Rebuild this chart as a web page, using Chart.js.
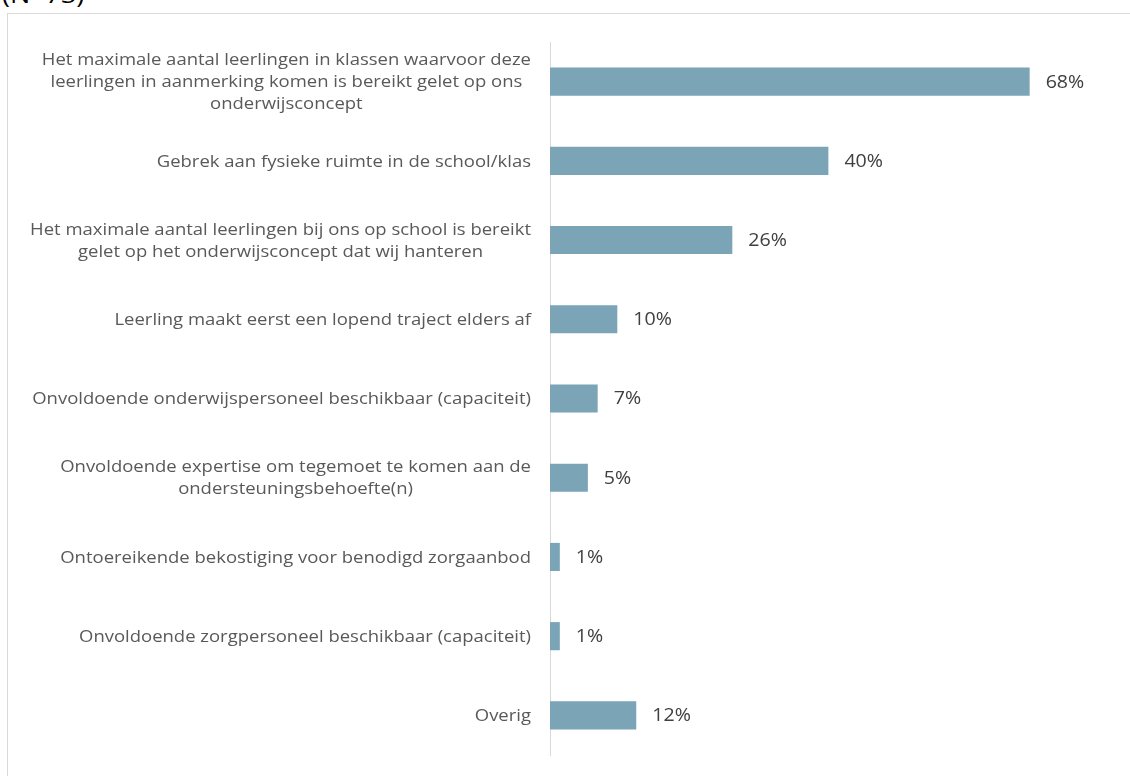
<!DOCTYPE html>
<html>
<head>
<meta charset="utf-8">
<script src="https://cdn.jsdelivr.net/npm/chart.js@4/dist/chart.umd.min.js"></script>
<style>
  html, body { margin: 0; padding: 0; background: #fff; overflow: hidden; }
  #wrap { position: relative; width: 1130px; height: 776px; }
  #frame { position: absolute; left: 7px; top: 13px; width: 1200px; height: 800px; border: 1px solid #d9d9d9; }
  #note { position: absolute; left: 2px; top: -23px; font: 24px "Open Sans", sans-serif; color: #000;
          transform: scaleX(1.12); transform-origin: left top; }
  canvas { position: absolute; left: 0; top: 0; }
</style>
</head>
<body>
<div id="wrap">
  <div id="note">(N=73)</div>
  <div id="frame"></div>
  <canvas id="chart" width="1130" height="776"></canvas>
</div>
<script>
// categories (multi-line labels as in the original)
const categories = [
  ["Het maximale aantal leerlingen in klassen waarvoor deze", "leerlingen in aanmerking komen is bereikt gelet op ons", "onderwijsconcept"],
  ["Gebrek aan fysieke ruimte in de school/klas"],
  ["Het maximale aantal leerlingen bij ons op school is bereikt", "gelet op het onderwijsconcept dat wij hanteren"],
  ["Leerling maakt eerst een lopend traject elders af"],
  ["Onvoldoende onderwijspersoneel beschikbaar (capaciteit)"],
  ["Onvoldoende expertise om tegemoet te komen aan de", "ondersteuningsbehoefte(n)"],
  ["Ontoereikende bekostiging voor benodigd zorgaanbod"],
  ["Onvoldoende zorgpersoneel beschikbaar (capaciteit)"],
  ["Overig"]
];
// percentages (N=73)
const values = [68.4, 39.7, 26.0, 9.6, 6.8, 5.4, 1.4, 1.4, 12.3];

const FONT = '"Open Sans", sans-serif';
const STRETCH = 1.12; // text in the original is a bit wider than Open Sans

// y labels: block right-aligned, lines centered (like Excel)
const catLabels = {
  id: "catLabels",
  afterDraw(chart) {
    const ctx = chart.ctx;
    const y = chart.scales.y;
    const rightX = 531;
    const lh = 22;
    ctx.save();
    ctx.font = "16.5px " + FONT;
    ctx.fillStyle = "#595959";
    ctx.textAlign = "center";
    ctx.textBaseline = "middle";
    categories.forEach((lines, i) => {
      const py = y.getPixelForTick(i) + 1;
      const w = Math.max(...lines.map(l => ctx.measureText(l).width)) * STRETCH;
      const cx = rightX - w / 2;
      const top = py - (lines.length - 1) * lh / 2;
      lines.forEach((l, j) => {
        ctx.save();
        ctx.translate(cx, top + j * lh);
        ctx.scale(STRETCH, 1);
        ctx.fillText(l, 0, 0);
        ctx.restore();
      });
    });
    ctx.restore();
  }
};

// value labels right of the bars
const valueLabels = {
  id: "valueLabels",
  afterDatasetsDraw(chart) {
    const ctx = chart.ctx;
    const meta = chart.getDatasetMeta(0);
    ctx.save();
    ctx.font = "17.5px " + FONT;
    ctx.fillStyle = "#404040";
    ctx.textAlign = "left";
    ctx.textBaseline = "middle";
    meta.data.forEach((bar, i) => {
      ctx.save();
      ctx.translate(bar.x + 16, bar.y + 1);
      ctx.scale(STRETCH, 1);
      ctx.fillText(Math.round(values[i]) + "%", 0, 0);
      ctx.restore();
    });
    ctx.restore();
  }
};

new Chart(document.getElementById("chart"), {
  type: "bar",
  data: {
    labels: categories,
    datasets: [{
      data: values,
      backgroundColor: "#7ba4b6",
      borderWidth: 0,
      barPercentage: 0.355,
      categoryPercentage: 1
    }]
  },
  options: {
    indexAxis: "y",
    responsive: false,
    animation: false,
    layout: { padding: { top: 42, bottom: 21, right: 19, left: 0 } },
    plugins: {
      legend: { display: false },
      tooltip: { enabled: false }
    },
    scales: {
      x: {
        display: false,
        min: 0,
        max: 80
      },
      y: {
        grid: { display: false },
        border: { display: true, color: "#d9d9d9", width: 1 },
        ticks: { display: false },
        afterFit: s => { s.width = 550; }
      }
    }
  },
  plugins: [catLabels, valueLabels]
});
</script>
</body>
</html>
